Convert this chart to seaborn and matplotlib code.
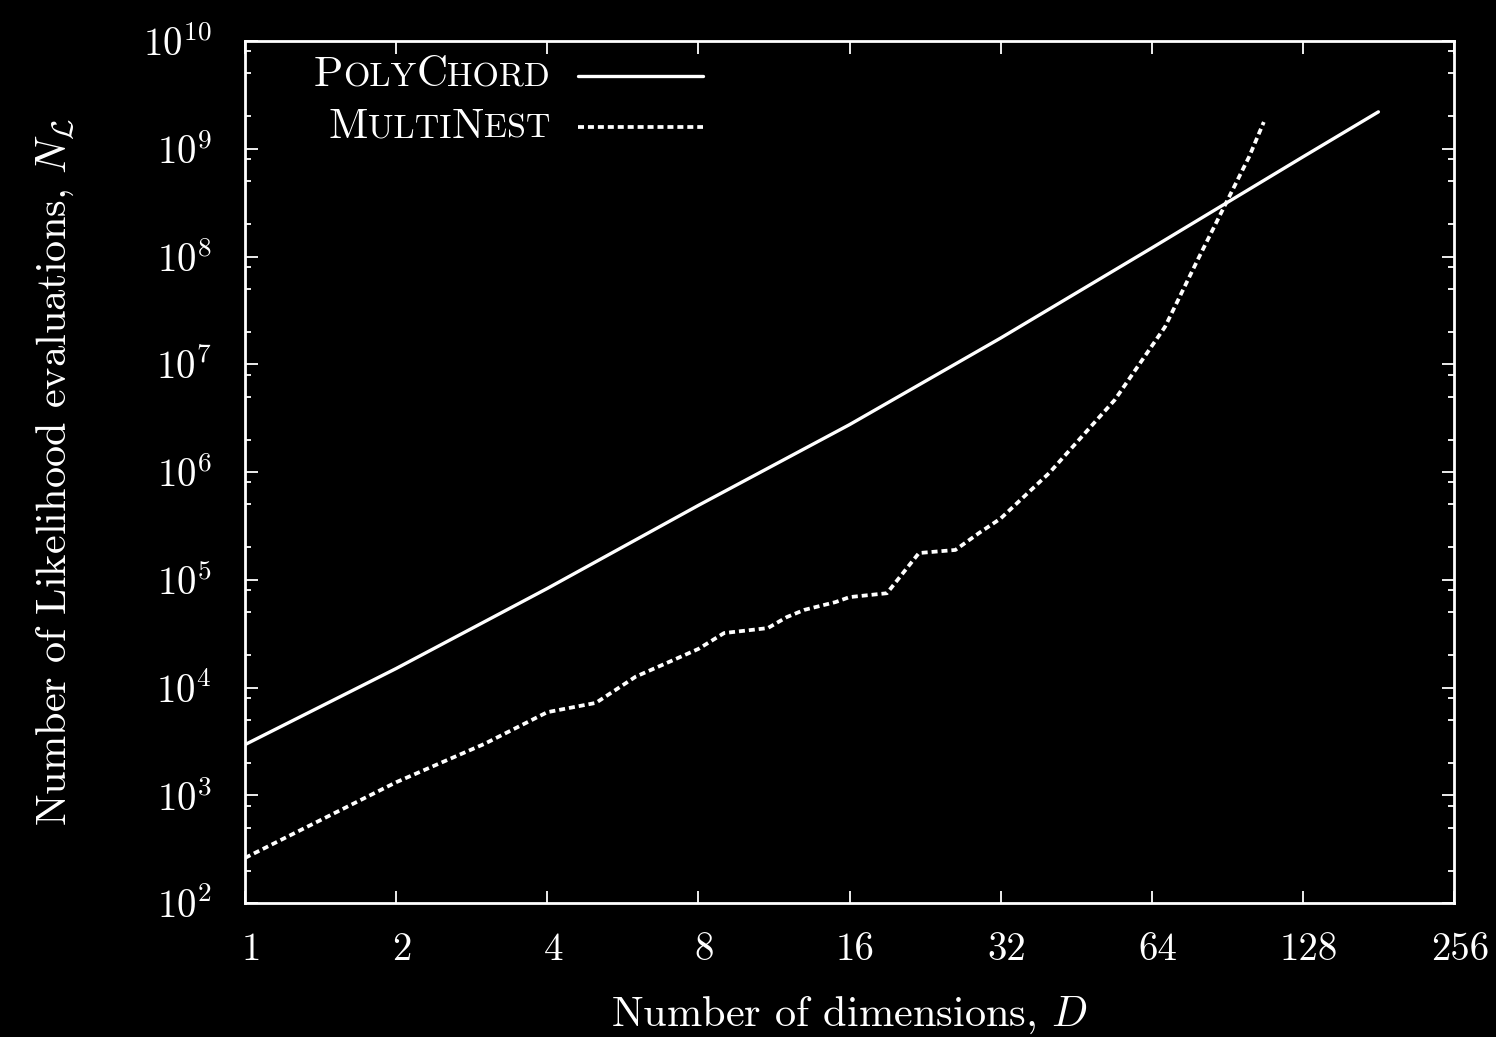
import matplotlib
matplotlib.use("Agg")
import matplotlib.pyplot as plt
import seaborn as sns
import pandas as pd
from matplotlib import ticker
from matplotlib.transforms import ScaledTranslation
from matplotlib.offsetbox import TextArea, HPacker, VPacker, DrawingArea, AnchoredOffsetbox
from matplotlib.lines import Line2D

# ---------------- data ----------------
polychord_D = [1, 2, 4, 8, 16, 32, 64, 128, 181]
polychord_N = [2.95e3, 1.5e4, 8.3e4, 4.9e5, 2.75e6, 1.75e7, 1.2e8, 8.4e8, 2.2e9]

multinest_D = [1, 2, 3, 4, 5, 6, 7, 8, 9, 11, 12, 13, 15, 16, 19, 22, 26, 29,
               32, 40, 54, 68, 79, 90, 100, 107]
multinest_N = [262, 1.32e3, 3.0e3, 5.9e3, 7.2e3, 1.26e4, 1.73e4, 2.28e4, 3.2e4,
               3.56e4, 4.5e4, 5.25e4, 6.2e4, 6.9e4, 7.5e4, 1.77e5, 1.89e5,
               2.72e5, 3.7e5, 9.8e5, 4.66e6, 2.22e7, 9.3e7, 3.14e8, 8.4e8, 1.77e9]

x_ticks = [1, 2, 4, 8, 16, 32, 64, 128, 256]
x_tick_labels = ["1", "2", "4", "8", "16", "32", "64", "128", "256"]
y_limits = (1e2, 1e10)

# small-caps legend labels: (text, is_capital)
legend_polychord = [("P", True), ("OLY", False), ("C", True), ("HORD", False)]
legend_multinest = [("M", True), ("ULTI", False), ("N", True), ("EST", False)]

x_label = "Number of dimensions, $D$"
y_label = r"Number of Likelihood evaluations, $N_{\mathcal{L}}$"

DOTTED = (0, (1.6, 1.05))

# ---------------- style ----------------
sns.set_theme(style="ticks")
plt.rcParams.update({
    "font.family": ["cmr10"],
    "mathtext.fontset": "cm",
    "axes.formatter.use_mathtext": True,
    "figure.facecolor": "black",
    "axes.facecolor": "black",
    "savefig.facecolor": "black",
    "text.color": "white",
    "axes.labelcolor": "white",
    "xtick.color": "white",
    "ytick.color": "white",
    "axes.edgecolor": "white",
    "axes.linewidth": 2.0,
})

W, H = 1496, 1037
fig = plt.figure(figsize=(W / 100, H / 100), dpi=100)
ax = fig.add_axes([245 / W, 1 - 903 / H, 1209 / W, 862 / H])
ax.set_xscale("log", base=2)
ax.set_yscale("log", base=10)

df_poly = pd.DataFrame({"D": polychord_D, "N": polychord_N})
df_multi = pd.DataFrame({"D": multinest_D, "N": multinest_N})

sns.lineplot(data=df_poly, x="D", y="N", ax=ax, color="white", linewidth=2.4,
             estimator=None, sort=False)
sns.lineplot(data=df_multi, x="D", y="N", ax=ax, color="white", linewidth=2.7,
             estimator=None, sort=False, linestyle=DOTTED)

ax.set_xlim(1, 256)
ax.set_ylim(*y_limits)
ax.set_xticks(x_ticks)
ax.set_xticklabels(x_tick_labels)
ax.xaxis.set_minor_locator(ticker.NullLocator())
ax.yaxis.set_major_locator(ticker.LogLocator(base=10, numticks=20))
ax.yaxis.set_major_formatter(ticker.LogFormatterMathtext(base=10))
ax.yaxis.set_minor_locator(ticker.LogLocator(base=10, subs=(2.0, 5.0, 8.0), numticks=20))
ax.yaxis.set_minor_formatter(ticker.NullFormatter())

ax.tick_params(which="both", direction="in", top=True, right=True, colors="white")
ax.tick_params(which="major", length=9, width=1.3, labelsize=28)
ax.tick_params(which="minor", length=4.5, width=1.3)
ax.tick_params(axis="y", which="major", pad=24)
ax.tick_params(axis="x", which="major", pad=21)

# the reference's x tick labels sit slightly right of their ticks
shift = ScaledTranslation(6 / 100, 0, fig.dpi_scale_trans)
for lab in ax.get_xticklabels():
    lab.set_transform(lab.get_transform() + shift)

for s in ax.spines.values():
    s.set_color("white")
    s.set_linewidth(2.0)

ax.set_xlabel(x_label, fontsize=30.5)
ax.set_ylabel(y_label, fontsize=30.5)
ax.xaxis.set_label_coords(0.5, -0.106)
ax.yaxis.set_label_coords(-0.140, 0.5)

# ---------------- legend (small caps label, sample to the right) ----------------
def smallcaps(parts, big=31, small=24.5):
    boxes = [TextArea(t, textprops=dict(color="white", fontsize=big if cap else small,
                                        family="cmr10"))
             for t, cap in parts]
    return HPacker(children=boxes, align="baseline", pad=0, sep=0)

def sample(ls, lw):
    da = DrawingArea(90, 14, 0, 0)
    da.add_artist(Line2D([0, 90], [7, 7], color="white", linewidth=lw, linestyle=ls))
    return da

row1 = HPacker(children=[smallcaps(legend_polychord), sample("-", 2.4)],
               align="center", pad=0, sep=20)
row2 = HPacker(children=[smallcaps(legend_multinest), sample(DOTTED, 2.7)],
               align="center", pad=0, sep=20)
legend_box = VPacker(children=[row1, row2], align="right", pad=0, sep=10)
anch = AnchoredOffsetbox(loc="upper right", child=legend_box, pad=0, borderpad=0,
                         frameon=False, bbox_to_anchor=(703 / W, 1 - 57 / H),
                         bbox_transform=fig.transFigure)
ax.add_artist(anch)

fig.savefig("out.png", dpi=100, facecolor="black")
